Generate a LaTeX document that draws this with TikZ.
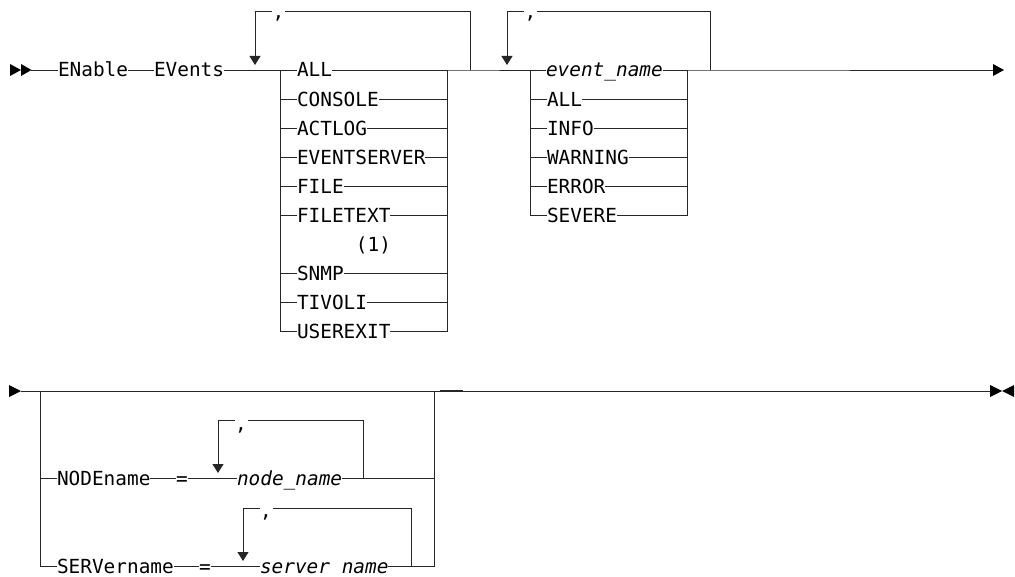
\documentclass[tikz,border=0pt]{standalone}
\usepackage{fontspec}
\newfontfamily\mono{DejaVu Sans Mono}
\usetikzlibrary{arrows.meta}
\begin{document}
\begin{tikzpicture}[x=1pt,y=-1pt,
  ln/.style={line width=0.9pt, draw=black!85},
  dn/.style={ln, -{Triangle[length=9pt,width=11pt]}},
  txt/.style={inner sep=0pt, outer sep=0pt, anchor=west, text height=14pt, text depth=0pt, font=\fontsize{19.4}{20}\mono},
  itx/.style={txt, font=\fontsize{19.4}{20}\mono\itshape},
  comma/.style={fill=white, inner sep=0pt, anchor=base, minimum width=13pt, text depth=3pt, font=\fontsize{19.4}{20}\mono},
  tip/.style={fill=black}
]
\useasboundingbox (0,0) rectangle (1015,577);

% ---------- top row ----------
\fill[tip] (10,64) -- (21,70) -- (10,76) -- cycle;
\fill[tip] (21,64) -- (31.5,70) -- (21,76) -- cycle;
\coordinate (s1) at (31,70);
\node[txt] (en) at (58,70) {ENable};
\node[txt] (ev) at (154,70) {EVents};
\coordinate (L1) at (280,70);
\coordinate (R1) at (447,70);
\coordinate (J1) at (470,70);
\coordinate (T1) at (255,11);
\coordinate (A1) at (255,65);
\coordinate (L2) at (530,70);
\coordinate (R2) at (687,70);
\coordinate (J2) at (710,70);
\coordinate (T2) at (507,11);
\coordinate (A2) at (507,65);
\coordinate (E1) at (993,70);

\draw[ln] (s1) -- (en.west) (en.east) -- (ev.west) (ev.east) -- (L1);

% stack 1
\foreach \t/\k in {ALL/0, CONSOLE/1, ACTLOG/2, EVENTSERVER/3, FILE/4, FILETEXT/5, SNMP/7, TIVOLI/8, USEREXIT/9} {
  \node[txt] (a\k) at (297, 70+29.1*\k) {\t};
}
\foreach \k in {0,1,2,3,4,5,7,8} {
  \draw[ln] (L1 |- a\k.west) -- (a\k.west) (a\k.east) -- (R1 |- a\k.east);
}
\draw[ln] (L1) -- (L1 |- a9.west) -- (a9.west);
\draw[ln] (a9.east) -- (R1 |- a9.east) -- (R1);
\node[txt, anchor=center] (fn) at (373.5,244.6) {(1)};

% loop 1
\draw[dn] (J1) |- (T1) -- (A1);
\node[comma, text height=9.5pt] (k1) at (278.5,19) {,};
\draw[ln] (R1) -- (J1) -- (L2);

% stack 2
\node[itx] (b0) at (546,70) {event\_name};
\foreach \t/\k in {ALL/1, INFO/2, WARNING/3, ERROR/4, SEVERE/5} {
  \node[txt] (b\k) at (547, 70+29.1*\k) {\t};
}
\foreach \k in {0,1,2,3,4} {
  \draw[ln] (L2 |- b\k.west) -- (b\k.west) (b\k.east) -- (R2 |- b\k.east);
}
\draw[ln] (L2) -- (L2 |- b5.west) -- (b5.west);
\draw[ln] (b5.east) -- (R2 |- b5.east) -- (R2);

% loop 2
\draw[dn] (J2) |- (T2) -- (A2);
\node[comma, text height=9.5pt] (k2) at (530.5,19) {,};
\draw[ln] (R2) -- (J2) -- (E1);
\fill[tip] (993,64) -- (1004,70) -- (993,76) -- cycle;

% ---------- bottom row ----------
\fill[tip] (9,385) -- (21,391) -- (9,397) -- cycle;
\coordinate (s2) at (21,391);
\coordinate (e2) at (990,391);
\draw[ln] (s2) -- (e2);
\draw[line width=1.5pt, black!85] (440,390.8) -- (463,390.8);
\fill[tip] (990,385) -- (1002,391) -- (990,397) -- cycle;
\fill[tip] (1014,385) -- (1002,391) -- (1014,397) -- cycle;

\coordinate (GL) at (40,391);
\coordinate (GR) at (434,391);

% NODEname branch
\node[txt] (nn) at (57,478) {NODEname};
\node[txt, anchor=center] (eq1) at (182,478) {=};
\node[itx] (nv) at (237,478) {node\_name};
\coordinate (NR) at (363,478);
\coordinate (NT) at (218,420);
\coordinate (NA) at (218,473);
\draw[ln] (GL |- nn.west) -- (nn.west) (nn.east) -- (eq1.west) (eq1.east) -- (nv.west) (nv.east) -- (GR |- nv.east);
\draw[dn] (NR) |- (NT) -- (NA);
\node[comma, text height=11pt] (k3) at (241,430) {,};

% SERVername branch
\node[txt] (sn) at (57,566) {SERVername};
\node[txt, anchor=center] (eq2) at (205,566) {=};
\node[itx] (sv) at (260,566) {server name};
\coordinate (SR) at (411,566);
\coordinate (ST) at (243,508);
\coordinate (SA) at (243,561);
\draw[ln] (GL) |- (sn.west);
\draw[ln] (sn.east) -- (eq2.west) (eq2.east) -- (sv.west);
\draw[ln] (sv.east) -- (GR |- sv.east) -- (GR);
\draw[dn] (SR) |- (ST) -- (SA);
\node[comma, text height=10pt] (k4) at (266,517) {,};
\end{tikzpicture}
\end{document}
